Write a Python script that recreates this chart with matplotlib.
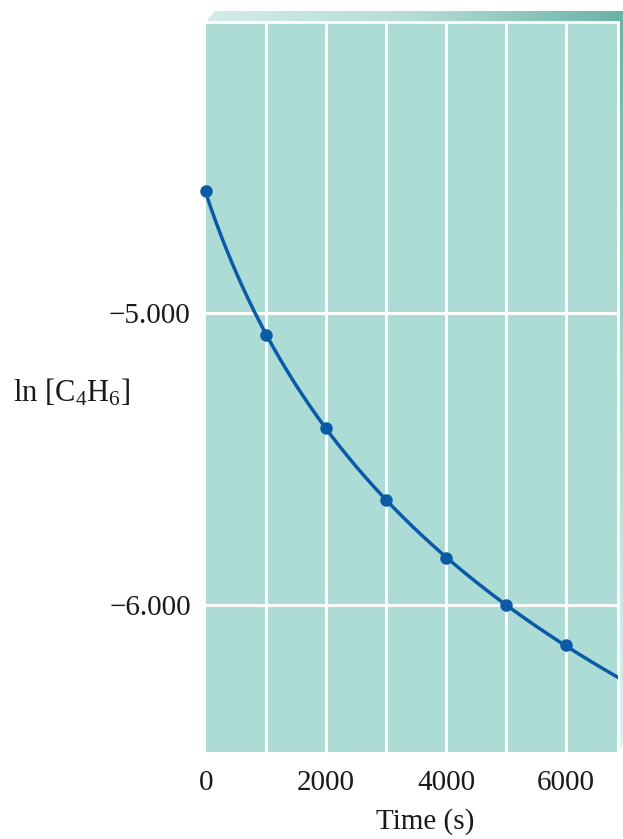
import numpy as np
import matplotlib
matplotlib.use("Agg")
import matplotlib.pyplot as plt
from matplotlib.colors import LinearSegmentedColormap
from matplotlib.patches import Polygon

plt.rcParams['font.family'] = ['Liberation Serif', 'DejaVu Serif']
plt.rcParams['mathtext.fontset'] = 'custom'
plt.rcParams['mathtext.rm'] = 'Liberation Serif'
plt.rcParams['mathtext.it'] = 'Liberation Serif:italic'

# data
time_s = np.array([0, 1000, 2000, 3000, 4000, 5000, 6000])
ln_conc = np.array([-4.582, -5.075, -5.394, -5.640, -5.839, -6.000, -6.137])

x_ticks = [0, 2000, 4000, 6000]
x_grid = [1000, 2000, 3000, 4000, 5000, 6000]
y_ticks = [-5.0, -6.0]
y_labels = ["\u22125.000", "\u22126.000"]

W, H = 623, 839
face = "#acdcd5"
line_col = "#0b5aa8"
txt_col = "#1a1a1a"

fig = plt.figure(figsize=(W / 100, H / 100), dpi=100)

# decoration layer in pixel coords (the bevelled box edges)
deco = fig.add_axes([0, 0, 1, 1], zorder=0)
deco.axis("off")

L, R, T, B = 206, 618, 22, 752
dx, dy = 9, 11

top_cmap = LinearSegmentedColormap.from_list("top", ["#d3ece8", "#b4dcd5", "#68b2a4"])
side_cmap = LinearSegmentedColormap.from_list("side", ["#68b2a4", "#a9d8d0", "#e2f2ef"])

top_poly = Polygon([(L, T), (R, T), (R + dx, T - dy), (L + dx, T - dy)],
                   closed=True, facecolor="none", edgecolor="none")
deco.add_patch(top_poly)
im = deco.imshow(np.linspace(0, 1, 256)[None, :], cmap=top_cmap, aspect="auto",
                 extent=(L, R + dx, T, T - dy))
im.set_clip_path(top_poly)

side_poly = Polygon([(R, T), (R + dx, T - dy), (R + dx, B - dy), (R, B)],
                    closed=True, facecolor="none", edgecolor="none")
deco.add_patch(side_poly)
im2 = deco.imshow(np.linspace(0, 1, 256)[:, None], cmap=side_cmap, aspect="auto",
                  extent=(R, R + dx, B, T - dy))
im2.set_clip_path(side_poly)
deco.set_xlim(0, W)
deco.set_ylim(H, 0)

# main plot
ax = fig.add_axes([L / W, 1 - B / H, (R - L) / W, (B - T) / H], zorder=1)
ax.set_facecolor(face)
ax.set_xlim(0, 6867)
ax.set_ylim(-6.503, -4.003)

for xv in x_grid:
    ax.axvline(xv, color="white", lw=2.2, zorder=1)
for yv in y_ticks:
    ax.axhline(yv, color="white", lw=2.2, zorder=1)

# second-order fit: 1/[A] linear in t
inv_c = np.exp(-ln_conc)
k, b = np.polyfit(time_s, inv_c, 1)
tt = np.linspace(0, 6867, 400)
ax.plot(tt, -np.log(b + k * tt), color=line_col, lw=2.5, zorder=3)
ax.plot(time_s, ln_conc, "o", color=line_col, ms=8, zorder=4, clip_on=False)

for side in ["left", "bottom"]:
    ax.spines[side].set_visible(False)
for side in ["top", "right"]:
    ax.spines[side].set_color("white")
    ax.spines[side].set_linewidth(2.0)

ax.set_xticks(x_ticks)
ax.set_xticklabels([str(v) for v in x_ticks])
ax.set_yticks(y_ticks)
ax.set_yticklabels(y_labels)
ax.tick_params(length=0, labelsize=21, colors=txt_col)
ax.tick_params(axis="x", pad=13)
ax.tick_params(axis="y", pad=11)

fig.text(13 / W, 1 - 393 / H, r"ln [C$_4$H$_6$]", fontsize=22, color=txt_col,
         ha="left", va="center")
fig.text(425 / W, 1 - 822 / H, "Time (s)", fontsize=21, color=txt_col,
         ha="center", va="center")

fig.savefig("out.png", dpi=100, facecolor="white")
